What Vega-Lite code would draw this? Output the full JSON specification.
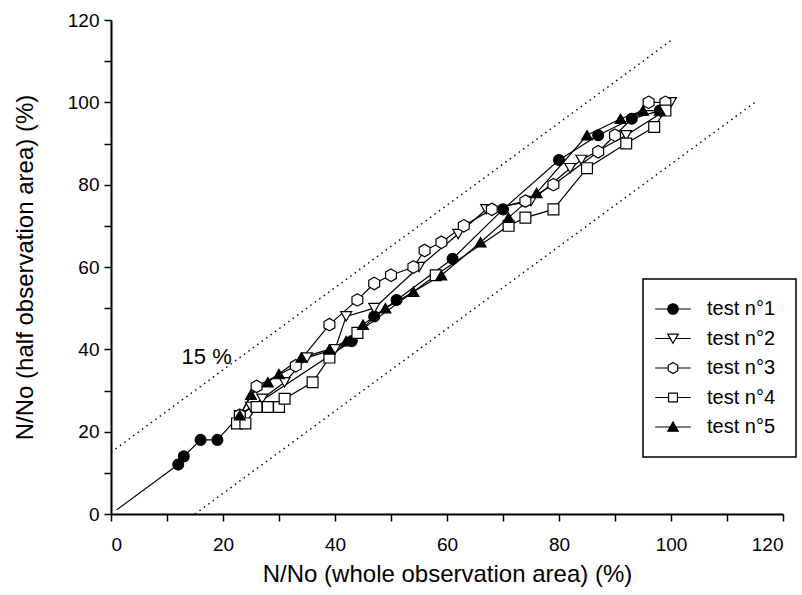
{
  "$schema": "https://vega.github.io/schema/vega-lite/v6.json",
  "width": 672,
  "height": 494,
  "autosize": {"type": "none"},
  "padding": {"left": 111, "top": 20, "right": 19, "bottom": 81},
  "background": "white",
  "datasets": {
    "refs": [
      {"line": "upper", "x": 0, "y": 15},
      {"line": "upper", "x": 100, "y": 115},
      {"line": "lower", "x": 15, "y": 0},
      {"line": "lower", "x": 115, "y": 100}
    ],
    "diag": [
      {"x": 1, "y": 1},
      {"x": 12, "y": 12}
    ],
    "label": [
      {"x": 12.6, "y": 38.2, "text": "15 %"}
    ],
    "tests": [
      {"s": "test n°1", "x": 12, "y": 12},
      {"s": "test n°1", "x": 13, "y": 14},
      {"s": "test n°1", "x": 16, "y": 18},
      {"s": "test n°1", "x": 19, "y": 18},
      {"s": "test n°1", "x": 23, "y": 24},
      {"s": "test n°1", "x": 43, "y": 42},
      {"s": "test n°1", "x": 47, "y": 48},
      {"s": "test n°1", "x": 51, "y": 52},
      {"s": "test n°1", "x": 61, "y": 62},
      {"s": "test n°1", "x": 70, "y": 74},
      {"s": "test n°1", "x": 80, "y": 86},
      {"s": "test n°1", "x": 87, "y": 92},
      {"s": "test n°1", "x": 93, "y": 96},
      {"s": "test n°1", "x": 98, "y": 98},
      {"s": "test n°2", "x": 23, "y": 24},
      {"s": "test n°2", "x": 25, "y": 26},
      {"s": "test n°2", "x": 27, "y": 28},
      {"s": "test n°2", "x": 31, "y": 32},
      {"s": "test n°2", "x": 35, "y": 38},
      {"s": "test n°2", "x": 40, "y": 40},
      {"s": "test n°2", "x": 42, "y": 48},
      {"s": "test n°2", "x": 47, "y": 50},
      {"s": "test n°2", "x": 55, "y": 60},
      {"s": "test n°2", "x": 62, "y": 68},
      {"s": "test n°2", "x": 67, "y": 74},
      {"s": "test n°2", "x": 75, "y": 76},
      {"s": "test n°2", "x": 82, "y": 84},
      {"s": "test n°2", "x": 84, "y": 86},
      {"s": "test n°2", "x": 92, "y": 92},
      {"s": "test n°2", "x": 99, "y": 98},
      {"s": "test n°2", "x": 100, "y": 100},
      {"s": "test n°3", "x": 23, "y": 24},
      {"s": "test n°3", "x": 26, "y": 31},
      {"s": "test n°3", "x": 33, "y": 36},
      {"s": "test n°3", "x": 39, "y": 46},
      {"s": "test n°3", "x": 44, "y": 52},
      {"s": "test n°3", "x": 47, "y": 56},
      {"s": "test n°3", "x": 50, "y": 58},
      {"s": "test n°3", "x": 54, "y": 60},
      {"s": "test n°3", "x": 56, "y": 64},
      {"s": "test n°3", "x": 59, "y": 66},
      {"s": "test n°3", "x": 63, "y": 70},
      {"s": "test n°3", "x": 68, "y": 74},
      {"s": "test n°3", "x": 74, "y": 76},
      {"s": "test n°3", "x": 79, "y": 80},
      {"s": "test n°3", "x": 87, "y": 88},
      {"s": "test n°3", "x": 90, "y": 92},
      {"s": "test n°3", "x": 96, "y": 100},
      {"s": "test n°3", "x": 99, "y": 100},
      {"s": "test n°4", "x": 22.5, "y": 22},
      {"s": "test n°4", "x": 24, "y": 22},
      {"s": "test n°4", "x": 26, "y": 26},
      {"s": "test n°4", "x": 28, "y": 26},
      {"s": "test n°4", "x": 30, "y": 26},
      {"s": "test n°4", "x": 31, "y": 28},
      {"s": "test n°4", "x": 36, "y": 32},
      {"s": "test n°4", "x": 39, "y": 38},
      {"s": "test n°4", "x": 44, "y": 44},
      {"s": "test n°4", "x": 58, "y": 58},
      {"s": "test n°4", "x": 71, "y": 70},
      {"s": "test n°4", "x": 74, "y": 72},
      {"s": "test n°4", "x": 79, "y": 74},
      {"s": "test n°4", "x": 85, "y": 84},
      {"s": "test n°4", "x": 92, "y": 90},
      {"s": "test n°4", "x": 97, "y": 94},
      {"s": "test n°4", "x": 99, "y": 98},
      {"s": "test n°5", "x": 23, "y": 24},
      {"s": "test n°5", "x": 25, "y": 29},
      {"s": "test n°5", "x": 28, "y": 32},
      {"s": "test n°5", "x": 30, "y": 34},
      {"s": "test n°5", "x": 34, "y": 38},
      {"s": "test n°5", "x": 39, "y": 40},
      {"s": "test n°5", "x": 42, "y": 42},
      {"s": "test n°5", "x": 45, "y": 46},
      {"s": "test n°5", "x": 49, "y": 50},
      {"s": "test n°5", "x": 54, "y": 54},
      {"s": "test n°5", "x": 59, "y": 58},
      {"s": "test n°5", "x": 66, "y": 66},
      {"s": "test n°5", "x": 71, "y": 72},
      {"s": "test n°5", "x": 76, "y": 78},
      {"s": "test n°5", "x": 85, "y": 92},
      {"s": "test n°5", "x": 91, "y": 96},
      {"s": "test n°5", "x": 95, "y": 98},
      {"s": "test n°5", "x": 98, "y": 98}
    ]
  },
  "encoding": {
    "x": {
      "field": "x", "type": "quantitative",
      "scale": {"domain": [0, 120], "nice": false, "zero": false},
      "axis": {
        "title": "N/No (whole observation area) (%)",
        "values": [0, 10, 20, 30, 40, 50, 60, 70, 80, 90, 100, 110, 120],
        "labelExpr": "datum.value % 20 === 0 ? datum.label : ''",
        "grid": false,
        "domainColor": "black", "domainWidth": 2,
        "tickColor": "black", "tickWidth": 1.5, "tickSize": 7,
        "labelFontSize": 19, "labelColor": "black", "labelPadding": 14,
        "labelFont": "Liberation Sans",
        "titleFontSize": 24, "titleFontWeight": "normal", "titleColor": "black",
        "titleFont": "Liberation Sans", "titlePadding": 8,
        "encode": {"ticks": {"update": {"y2": {"signal": "datum.value % 20 === 0 ? 7 : 4"}}}}
      }
    },
    "y": {
      "field": "y", "type": "quantitative",
      "scale": {"domain": [0, 120], "nice": false, "zero": false},
      "axis": {
        "title": "N/No (half observation area) (%)",
        "values": [0, 10, 20, 30, 40, 50, 60, 70, 80, 90, 100, 110, 120],
        "labelExpr": "datum.value % 20 === 0 ? datum.label : ''",
        "grid": false,
        "domainColor": "black", "domainWidth": 2,
        "tickColor": "black", "tickWidth": 1.5, "tickSize": 7,
        "labelFontSize": 19, "labelColor": "black", "labelPadding": 5,
        "labelFont": "Liberation Sans",
        "titleFontSize": 24, "titleFontWeight": "normal", "titleColor": "black",
        "titleFont": "Liberation Sans", "titlePadding": 30,
        "encode": {"ticks": {"update": {"x2": {"signal": "datum.value % 20 === 0 ? -7 : -4"}}}}
      }
    }
  },
  "layer": [
    {
      "data": {"name": "refs"},
      "mark": {"type": "line", "color": "black", "strokeWidth": 1.4, "strokeDash": [1.5, 4]},
      "encoding": {"detail": {"field": "line"}}
    },
    {
      "data": {"name": "diag"},
      "mark": {"type": "line", "color": "black", "strokeWidth": 1.2},
      "encoding": {}
    },
    {
      "data": {"name": "label"},
      "mark": {"type": "text", "align": "left", "baseline": "middle", "fontSize": 22, "font": "Liberation Sans", "color": "black"},
      "encoding": {"text": {"field": "text"}}
    },
    {
      "data": {"name": "tests"},
      "mark": {"type": "line", "color": "black", "strokeWidth": 1.2},
      "encoding": {"detail": {"field": "s"}}
    },
    {
      "data": {"name": "tests"},
      "mark": {"type": "point", "strokeWidth": 1.2, "opacity": 1, "size": 118},
      "encoding": {
        "shape": {
          "field": "s", "type": "nominal",
          "scale": {"domain": ["test n°1", "test n°2", "test n°3", "test n°4", "test n°5"],
                    "range": ["circle", "triangle-down", "M0,-1.15L1,-0.58L1,0.58L0,1.15L-1,0.58L-1,-0.58Z", "square", "triangle-up"]},
          "legend": null
        },
        "fill": {
          "field": "s", "type": "nominal",
          "scale": {"domain": ["test n°1", "test n°2", "test n°3", "test n°4", "test n°5"],
                    "range": ["black", "white", "white", "white", "black"]},
          "legend": null
        },
        "stroke": {
          "field": "s", "type": "nominal",
          "scale": {"domain": ["test n°1", "test n°2", "test n°3", "test n°4", "test n°5"],
                    "range": ["black", "black", "black", "black", "black"]},
          "legend": null
        }
      }
    },
    {
      "data": {"values": []},
      "mark": {"type": "point", "strokeWidth": 1.2, "opacity": 1},
      "encoding": {
        "shape": {
          "field": "s", "type": "nominal",
          "scale": {"domain": ["test n°1", "test n°2", "test n°3", "test n°4", "test n°5"],
                    "range": [
                      "M-3.4,0L-1,0M1,0L3.4,0M-1,0A1,1 0 1,0 1,0A1,1 0 1,0 -1,0Z",
                      "M-3.4,0L-0.5,0M0.5,0L3.4,0M-1,-0.85L1,-0.85L0,0.9Z",
                      "M-3.4,0L-0.9,0M0.9,0L3.4,0M0,-1.05L0.9,-0.52L0.9,0.52L0,1.05L-0.9,0.52L-0.9,-0.52Z",
                      "M-3.4,0L-0.85,0M0.85,0L3.4,0M-0.85,-0.85L0.85,-0.85L0.85,0.85L-0.85,0.85Z",
                      "M-3.4,0L-0.5,0M0.5,0L3.4,0M0,-0.95L1,0.8L-1,0.8Z"
                    ]},
          "legend": {"title": null}
        },
        "fill": {
          "field": "s", "type": "nominal",
          "scale": {"domain": ["test n°1", "test n°2", "test n°3", "test n°4", "test n°5"],
                    "range": ["black", "white", "white", "white", "black"]},
          "legend": {"title": null}
        },
        "stroke": {
          "field": "s", "type": "nominal",
          "scale": {"domain": ["test n°1", "test n°2", "test n°3", "test n°4", "test n°5"],
                    "range": ["black", "black", "black", "black", "black"]},
          "legend": {"title": null}
        }
      }
    }
  ],
  "resolve": {
    "scale": {"shape": "independent", "fill": "independent", "stroke": "independent"},
    "legend": {"shape": "independent", "fill": "independent", "stroke": "independent"}
  },
  "config": {
    "view": {"stroke": null},
    "font": "Liberation Sans",
    "legend": {
      "orient": "none",
      "legendX": 532,
      "legendY": 259,
      "strokeColor": "black",
      "strokeWidth": 1.5,
      "fillColor": "white",
      "padding": 20,
      "labelFontSize": 20,
      "labelColor": "black",
      "labelFont": "Liberation Sans",
      "labelOffset": 24,
      "symbolSize": 110,
      "symbolStrokeColor": "black",
      "symbolStrokeWidth": 1.2,
      "rowPadding": 9.5,
      "offset": 0
    }
  }
}
